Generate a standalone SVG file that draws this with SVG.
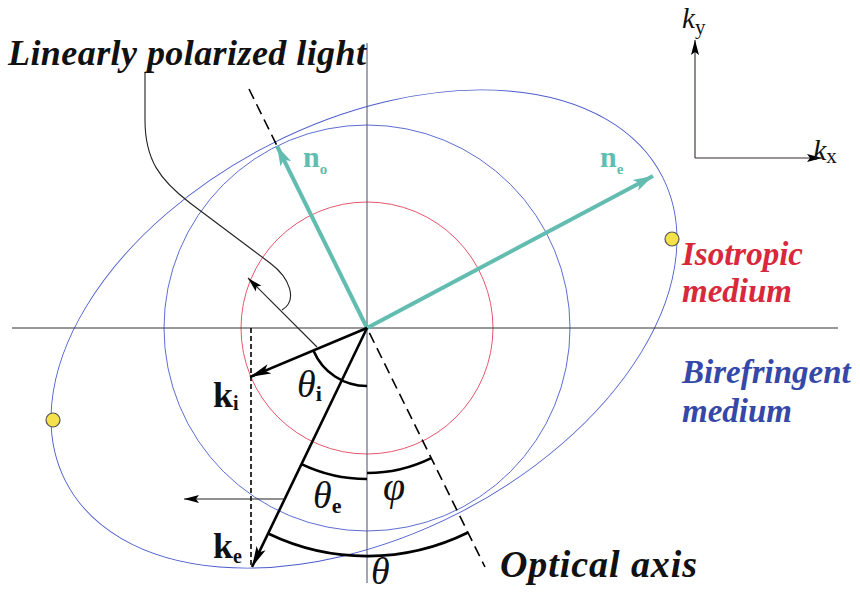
<svg xmlns="http://www.w3.org/2000/svg" width="860" height="594" viewBox="0 0 860 594">
<style>
.bg{fill:#fff}
.axis{stroke:#333;stroke-width:1;fill:none}
.vaxis{stroke:#4a4d66;stroke-width:1;fill:none}
.blue{stroke:#4b5ccc;stroke-width:0.9;fill:none}
.red{stroke:#e2445a;stroke-width:0.9;fill:none}
.teal{stroke:#62bdb0;stroke-width:4;fill:none}
.thick{stroke:#000;stroke-width:2.6;fill:none}
.thin{stroke:#222;stroke-width:1.1;fill:none}
.dash{stroke:#000;stroke-width:1.6;fill:none;stroke-dasharray:11 6}
.dash2{stroke:#000;stroke-width:1.6;fill:none;stroke-dasharray:5 3}
.kaxis{stroke:#3a2a2a;stroke-width:1.1;fill:none}
.dot{fill:#f5e24a;stroke:#555;stroke-width:1.2}
.t{font-family:"Liberation Serif","Times New Roman",serif}
.bi{font-weight:bold;font-style:italic}
.b{font-weight:bold}
.it{font-style:italic}
</style>
<defs>
<marker id="ahk" markerUnits="userSpaceOnUse" markerWidth="24" markerHeight="12" refX="21" refY="6" orient="auto"><path d="M0,1 L21,6 L0,11 L5,6 Z" fill="#000"/></marker>
<marker id="aht" markerUnits="userSpaceOnUse" markerWidth="22" markerHeight="14" refX="20" refY="7" orient="auto"><path d="M0,1 L20,7 L0,13 L5,7 Z" fill="#62bdb0"/></marker>
<marker id="ahs" markerUnits="userSpaceOnUse" markerWidth="16" markerHeight="10" refX="15" refY="5" orient="auto"><path d="M0,1 L15,5 L0,9 L3,5 Z" fill="#000"/></marker>
</defs>
<rect class="bg" x="0" y="0" width="860" height="594"/>

<g id="curves">
<ellipse class="blue" cx="364" cy="329" rx="335" ry="207" transform="rotate(-27 364 329)"/>
<circle class="blue" cx="367" cy="328" r="203"/>
<circle class="red" cx="367" cy="328" r="126"/>
</g>

<g id="axes">
<line class="axis" x1="12" y1="328" x2="838" y2="328"/>
<line class="vaxis" x1="367" y1="43" x2="367" y2="583"/>
</g>

<g id="connectors">
<line class="dash" x1="249" y1="89" x2="485" y2="567"/>
<line class="dash2" x1="251" y1="328" x2="251" y2="567"/>
<line class="teal" x1="367" y1="328" x2="277" y2="146" marker-end="url(#aht)"/>
<line class="teal" x1="367" y1="328" x2="653" y2="176" marker-end="url(#aht)"/>
<line class="thick" x1="367" y1="328" x2="250" y2="377" marker-end="url(#ahk)"/>
<line class="thick" x1="367" y1="328" x2="252" y2="567" marker-end="url(#ahk)"/>
<line class="thin" x1="285" y1="499" x2="184" y2="499" marker-end="url(#ahs)"/>
<line class="thin" x1="317" y1="347" x2="248" y2="278" marker-end="url(#ahs)"/>
<path class="thin" d="M145,72 L145,120 C145,160 160,180 190,203 L270,263 C290,278 298,300 282,310"/>
<path class="thick" d="M313.6,350.9 A58,58 0 0 0 367,386"/>
<path class="thick" d="M301.5,464.1 A151,151 0 0 0 367,479"/>
<path class="thick" d="M367,473 A145,145 0 0 0 431.2,458.1"/>
<path class="thick" d="M268.1,533.5 A228,228 0 0 0 468,532.5"/>
<line class="kaxis" x1="695" y1="158" x2="695" y2="40" marker-end="url(#ahs)"/>
<line class="kaxis" x1="695" y1="158" x2="822" y2="158" marker-end="url(#ahs)"/>
</g>

<g id="dots">
<circle class="dot" cx="672" cy="239" r="7"/>
<circle class="dot" cx="53" cy="420" r="7"/>
</g>

<g id="labels" class="t">
<text class="t bi" x="8" y="65" font-size="36" textLength="358" lengthAdjust="spacing" fill="#111">Linearly polarized light</text>
<text class="t bi" x="500" y="577" font-size="38" textLength="197" lengthAdjust="spacing" fill="#111">Optical axis</text>
<text class="t bi" x="682" y="265" font-size="33" fill="#d8283c">Isotropic</text>
<text class="t bi" x="682" y="302" font-size="33" fill="#d8283c">medium</text>
<text class="t bi" x="682" y="383" font-size="33" fill="#3548a8">Birefringent</text>
<text class="t bi" x="682" y="422" font-size="33" fill="#3548a8">medium</text>
<text class="t b" x="303" y="167" font-size="30" fill="#62bdb0">n<tspan font-size="15" dy="7">o</tspan></text>
<text class="t b" x="600" y="167" font-size="30" fill="#62bdb0">n<tspan font-size="15" dy="7">e</tspan></text>
<text class="t b" x="213" y="407" font-size="36" fill="#111">k<tspan font-size="20" dy="3">i</tspan></text>
<text class="t b" x="213" y="558" font-size="36" fill="#111">k<tspan font-size="20" dy="5">e</tspan></text>
<text class="t it" x="297" y="397" font-size="38" fill="#111">θ<tspan class="b" font-style="normal" font-size="22" dy="4">i</tspan></text>
<text class="t it" x="313" y="508" font-size="38" fill="#111">θ<tspan class="b" font-style="normal" font-size="22" dy="5">e</tspan></text>
<text class="t it" x="383" y="500" font-size="40" fill="#111">φ</text>
<text class="t it" x="371" y="584" font-size="38" fill="#111">θ</text>
<text class="t it" x="682" y="28" font-size="29" fill="#111">k<tspan font-style="normal" font-size="21" dy="6">y</tspan></text>
<text class="t it" x="813" y="160" font-size="30" fill="#111">k<tspan font-style="normal" font-size="21" dy="3">x</tspan></text>
</g>
</svg>
